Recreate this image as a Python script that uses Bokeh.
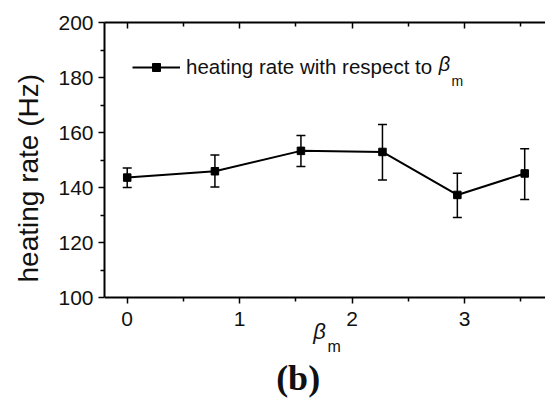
from bokeh.plotting import figure
from bokeh.models import (Range1d, FixedTicker, LinearAxis, Whisker, TeeHead,
                          ColumnDataSource, Legend, LegendItem, Title)
from bokeh.core.properties import value
from bokeh.embed import file_html
from bokeh.resources import INLINE

# data
beta_m = [0.0, 0.78, 1.545, 2.27, 2.936, 3.535]
rate = [143.7, 146.0, 153.4, 153.0, 137.4, 145.2]
err_upper = [147.2, 151.9, 159.0, 163.0, 145.3, 154.2]
err_lower = [140.1, 140.3, 147.7, 142.8, 129.2, 135.7]
y_ticks = [100, 120, 140, 160, 180, 200]
y_minor = [110, 130, 150, 170, 190]
x_ticks = [0, 1, 2, 3]
x_minor = [0.5, 1.5, 2.5, 3.5]

FONT = "Liberation Sans"
TXT = "#111111"

p = figure(width=545, height=398, output_backend="svg", toolbar_location=None,
           x_range=Range1d(-0.202, 3.72), y_range=Range1d(63.5, 200),
           min_border_left=104, min_border_right=0, min_border_top=22, min_border_bottom=0)
p.outline_line_color = None
p.grid.visible = False
p.background_fill_color = "white"
p.border_fill_color = "white"

src = ColumnDataSource(dict(x=beta_m, y=rate, up=err_upper, lo=err_lower))

line_r = p.line("x", "y", source=src, line_color="black", line_width=2)
sq_r = p.scatter("x", "y", source=src, marker="square", size=7.5, color="black")
wh = Whisker(source=src, base="x", upper="up", lower="lo", line_color="black", line_width=1.5,
             upper_head=TeeHead(size=9, line_color="black", line_width=1.5),
             lower_head=TeeHead(size=9, line_color="black", line_width=1.5))
p.add_layout(wh)

def style_axis(ax):
    ax.axis_line_width = 2
    ax.axis_line_color = "black"
    ax.major_tick_line_width = 1.5
    ax.minor_tick_line_width = 1.5
    ax.major_tick_line_color = "black"
    ax.minor_tick_line_color = "black"
    ax.major_label_text_font = FONT
    ax.major_label_text_font_size = "21px"
    ax.major_label_text_color = TXT

# left axis, limited to 100..200
ya = p.yaxis[0]
style_axis(ya)
ya.ticker = FixedTicker(ticks=y_ticks, minor_ticks=y_minor)
ya.bounds = (100, 200)
ya.major_tick_out = 6
ya.major_tick_in = 0
ya.minor_tick_out = 4
ya.minor_tick_in = 0
ya.major_label_standoff = 5

# y-axis title (off-centre, as in the reference)
p.add_layout(Title(text="heating rate (Hz)", align="left", offset=116, standoff=22,
                   vertical_align="middle",
                   text_font=FONT, text_font_size="28px", text_font_style="normal",
                   text_color=TXT), "left")

# bottom axis drawn at y = 100
xa = p.xaxis[0]
style_axis(xa)
xa.ticker = FixedTicker(ticks=x_ticks, minor_ticks=x_minor)
xa.fixed_location = 100
xa.major_tick_out = 6
xa.major_tick_in = 0
xa.minor_tick_out = 4
xa.minor_tick_in = 0
xa.major_label_standoff = 8

# top axis (ticks inward, no labels)
ta = LinearAxis(ticker=FixedTicker(ticks=x_ticks, minor_ticks=x_minor),
                major_label_overrides={t: " " for t in x_ticks})
style_axis(ta)
ta.major_label_text_font_size = "1px"
ta.major_tick_out = 0
ta.major_tick_in = 6
ta.minor_tick_out = 0
ta.minor_tick_in = 4
ta.major_label_standoff = 0
p.add_layout(ta, "above")

leg = Legend(items=[LegendItem(label="heating rate with respect to", renderers=[line_r, sq_r])],
             location=(28, 319), padding=0, margin=0, spacing=0,
             border_line_color=None, background_fill_alpha=0,
             glyph_width=48, glyph_height=20, label_standoff=6, label_height=20,
             label_text_font=FONT, label_text_font_size="20.5px", label_text_color=TXT)
p.add_layout(leg, "center")

# beta_m after the legend text
p.text(x=[2.77], y=[184.9], text=["β"], text_font=value(FONT), text_font_style="italic",
       text_font_size="20px", text_color=TXT, text_baseline="middle")
p.text(x=[2.885], y=[178.8], text=["m"], text_font=value(FONT),
       text_font_size="14px", text_color=TXT, text_baseline="middle")

# x-axis label beta_m
p.text(x=[1.655], y=[88.0], text=["β"], text_font=value(FONT), text_font_style="italic",
       text_font_size="22px", text_color=TXT, text_baseline="middle")
p.text(x=[1.782], y=[82.3], text=["m"], text_font=value(FONT),
       text_font_size="16px", text_color=TXT, text_baseline="middle")

# panel label
p.text(x=[1.52], y=[70.9], text=["(b)"], text_font=value("Liberation Serif"), text_font_style="bold",
       text_font_size="36px", text_color=TXT, text_baseline="middle", text_align="center")

open("out.html", "w").write(file_html(p, INLINE))
